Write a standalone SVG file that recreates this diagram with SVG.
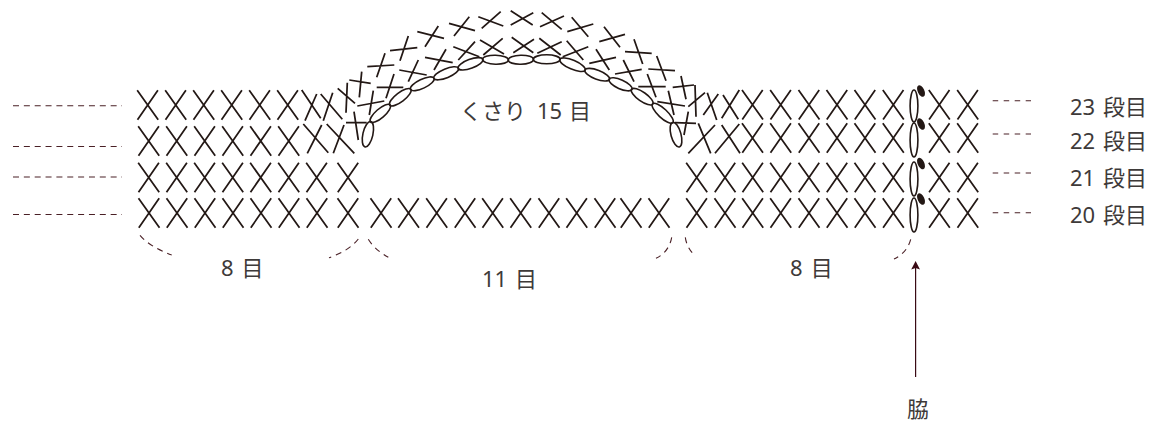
<svg xmlns="http://www.w3.org/2000/svg" width="1153" height="424" viewBox="0 0 1153 424">
<style>
.s{fill:none;stroke:#231815;stroke-width:1.75}
.o{fill:none;stroke:#231815;stroke-width:1.6}
.b{fill:#231815}
.d{fill:none;stroke:#4a2026;stroke-width:1.1}
.dl{stroke-dasharray:6 4.85}
.dr{stroke-dasharray:5.5 5.5}
.c{stroke-dasharray:6 5}
text{font-family:"Noto Sans","Noto Sans CJK JP",sans-serif;font-size:22px;fill:#3e3a39}
</style>
<defs>
<path id="x" class="s" d="M-10.5-14.7L10.5 14.7M10.2-14.7L-10.2 14.7"/>
</defs>
<g id="row-20">
<use href="#x" x="149" y="213"/><use href="#x" x="177" y="213"/><use href="#x" x="205" y="213"/><use href="#x" x="233" y="213"/><use href="#x" x="261" y="213"/><use href="#x" x="289" y="213"/><use href="#x" x="317" y="213"/><use href="#x" x="348" y="213"/>
<use href="#x" x="381" y="213"/><use href="#x" x="408.5" y="213"/><use href="#x" x="436.7" y="213"/><use href="#x" x="465" y="213"/><use href="#x" x="492.7" y="213"/><use href="#x" x="520.7" y="213"/><use href="#x" x="549" y="213"/><use href="#x" x="576.7" y="213"/><use href="#x" x="605" y="213"/><use href="#x" x="631" y="213"/><use href="#x" x="659" y="213"/>
<use href="#x" x="696.7" y="213"/><use href="#x" x="725" y="213"/><use href="#x" x="752.7" y="213"/><use href="#x" x="780.7" y="213"/><use href="#x" x="809" y="213"/><use href="#x" x="837" y="213"/><use href="#x" x="865" y="213"/><use href="#x" x="893.3" y="213"/>
<use href="#x" x="939.3" y="213"/><use href="#x" x="967.7" y="213"/>
</g>
<g id="row-21">
<use href="#x" x="148.7" y="177.5"/><use href="#x" x="176.7" y="177.5"/><use href="#x" x="204.7" y="177.5"/><use href="#x" x="232.7" y="177.5"/><use href="#x" x="260.7" y="177.5"/><use href="#x" x="288.7" y="177.5"/><use href="#x" x="316.7" y="177.5"/><use href="#x" x="348" y="177.5"/>
<use href="#x" x="696.7" y="177.5"/><use href="#x" x="725" y="177.5"/><use href="#x" x="752.7" y="177.5"/><use href="#x" x="780.7" y="177.5"/><use href="#x" x="809" y="177.5"/><use href="#x" x="837" y="177.5"/><use href="#x" x="865" y="177.5"/><use href="#x" x="893.3" y="177.5"/>
<use href="#x" x="939.3" y="177.5"/><use href="#x" x="967.7" y="177.5"/>
</g>
<g id="row-22">
<use href="#x" x="148.7" y="141"/><use href="#x" x="176.7" y="141"/><use href="#x" x="204.7" y="141"/><use href="#x" x="232.7" y="141"/><use href="#x" x="260.7" y="141"/><use href="#x" x="288.7" y="141"/>
<path class="s" d="M303.3 124L328.3 152.7M321.7 125L307.3 153.3M326.7 124L354.3 153.3M344 125L333.3 153.3"/>
<path class="s" d="M698.3 123.3L710.7 153.3M715 125L688.3 153.3M721.7 125L740 153.3M739.3 124L715 153.3"/>
<use href="#x" x="752.5" y="138"/><use href="#x" x="780.7" y="138"/><use href="#x" x="809" y="138"/><use href="#x" x="837" y="138"/><use href="#x" x="865" y="138"/><use href="#x" x="893.3" y="138"/>
<use href="#x" x="939.3" y="138"/><use href="#x" x="967.7" y="138"/>
</g>
<g id="row-23">
<use href="#x" x="147.7" y="105"/><use href="#x" x="175.7" y="105"/><use href="#x" x="203.7" y="105"/><use href="#x" x="231.7" y="105"/><use href="#x" x="259.7" y="105"/><use href="#x" x="287.7" y="105"/>
<path class="s" d="M301.7 90L320.7 118.3M316.7 94L305 120.7M320.7 94L342.3 119.3M332.7 92.7L323.3 120.7M337.7 88.3L355 103.3M347.3 82.7L346 112.7"/>
<path class="s" d="M695 85L696 116.7M688.3 106.7L705 92.7M707.3 92.7L716.7 120M718.3 94L703.3 115M723 95L738.3 119.3M739.3 90L721.7 118.3"/>
<use href="#x" x="752.5" y="104.7"/><use href="#x" x="780.7" y="104.7"/><use href="#x" x="809" y="104.7"/><use href="#x" x="837" y="104.7"/><use href="#x" x="865" y="104.7"/><use href="#x" x="893.3" y="104.7"/>
<use href="#x" x="939.3" y="104.7"/><use href="#x" x="967.7" y="104.7"/>
</g>
<g id="arch-inner-stitches">
<path class="s" d="M346 122.7L366.7 122.7M354 111.7L358.3 140M357.3 106L384.3 101M373.3 90.7L369.3 115M376.7 87.3L403.3 87.3M394 74L386 98.3M399.3 70L426.7 75M418.3 60L408.3 81.7M425 57.3L452.7 62.7M446 49.3L434 70M453.3 46.7L479.3 56.7M475 41.7L458.3 60M480 40L504 54M502.7 38.3L483.3 55M511.7 37.3L533.3 52.7M534 39.3L513.3 52.7M539.3 38.3L560.7 55M561.7 41.7L537.3 53.3M566.7 40.7L583.3 60M588.3 46.7L562.7 56.7M596 49.3L609.3 70M616 57.3L589.3 63.3M623.3 60L634 81.7M641.7 69.3L615 74M647.3 74L656 97.3M665.7 86.7L638.3 86.7M668.3 90.7L674 115M685 106L657.3 101.7M688.3 111.7L684 135M696 123.3L675 122.7"/>
</g>
<g id="arch-outer-stitches">
<path class="s" d="M349.3 80L370.7 83.3M361.7 71.7L359.3 97.3M367.3 66.7L394.3 65M385 53.3L376.7 77.3M390 50.7L417.3 47.7M408.3 36L400 60.7M417.3 31.7L444 38.3M438.3 26L425 46.7M449 23.3L475 30.7M469.3 16.7L454 36M478.3 16.7L503.3 26M500.7 11.7L481.7 28.3M510.7 10.7L532.7 25M533.3 12.7L510.7 25M541.7 12.7L561.7 29.3M564 16L540 26.7M571.7 17.3L588.3 36.7M593.3 24L567.3 31.7M604 26.7L620 47.3M625 34.3L599.3 41.7M634 39.3L642.7 64M651.7 53.3L625 51.7M656.7 56L666 80.7M675 70.7L648.3 69M681 76L686 99.3M694 85L672.7 87.3"/>
</g>
<g id="chain-15">
<ellipse class="o" cx="367.9" cy="134.2" rx="13" ry="5" transform="rotate(-77.2 367.9 134.2)"/>
<ellipse class="o" cx="380.3" cy="113.4" rx="13" ry="4.5" transform="rotate(-40.9 380.3 113.4)"/>
<ellipse class="o" cx="400.3" cy="97.2" rx="13.2" ry="4.5" transform="rotate(-37.2 400.3 97.2)"/>
<ellipse class="o" cx="422.3" cy="83.8" rx="13" ry="4.5" transform="rotate(-25.3 422.3 83.8)"/>
<ellipse class="o" cx="446.2" cy="73.3" rx="13.3" ry="4.5" transform="rotate(-22.4 446.2 73.3)"/>
<ellipse class="o" cx="470.5" cy="63.8" rx="13.2" ry="4.5" transform="rotate(-20.2 470.5 63.8)"/>
<ellipse class="o" cx="495.5" cy="59.7" rx="13" ry="4.5" transform="rotate(1.6 495.5 59.7)"/>
<ellipse class="o" cx="520.8" cy="59.7" rx="12.7" ry="4.5" transform="rotate(-1.6 520.8 59.7)"/>
<ellipse class="o" cx="546.7" cy="59.3" rx="13.5" ry="4.5"/>
<ellipse class="o" cx="572.5" cy="64.7" rx="13.8" ry="4.5" transform="rotate(23.2 572.5 64.7)"/>
<ellipse class="o" cx="597.2" cy="74.7" rx="13.2" ry="4.5" transform="rotate(20.9 597.2 74.7)"/>
<ellipse class="o" cx="620.5" cy="84.3" rx="12.5" ry="4.5" transform="rotate(24.1 620.5 84.3)"/>
<ellipse class="o" cx="642.2" cy="96.7" rx="13" ry="4.5" transform="rotate(35 642.2 96.7)"/>
<ellipse class="o" cx="662.7" cy="113.3" rx="13.9" ry="4.5" transform="rotate(43.1 662.7 113.3)"/>
<ellipse class="o" cx="676" cy="134.7" rx="12.7" ry="5" transform="rotate(74.6 676 134.7)"/>
</g>
<g id="side-stitches">
<ellipse class="o" cx="914" cy="106" rx="3.9" ry="16"/>
<ellipse class="o" cx="914" cy="140" rx="3.9" ry="17"/>
<ellipse class="o" cx="914" cy="179" rx="3.9" ry="17"/>
<ellipse class="o" cx="914" cy="215" rx="3.9" ry="17"/>
<ellipse class="b" cx="921" cy="91" rx="3.3" ry="6.2" transform="rotate(-25 921 91)"/>
<ellipse class="b" cx="921" cy="124" rx="3.3" ry="6.2" transform="rotate(-25 921 124)"/>
<ellipse class="b" cx="921" cy="163.5" rx="3.3" ry="6.2" transform="rotate(-25 921 163.5)"/>
<ellipse class="b" cx="921" cy="199" rx="3.3" ry="6.2" transform="rotate(-25 921 199)"/>
</g>
<g id="connectors">
<path class="d dl" d="M13 105.7H122M13 146.5H122M13 177H122M13 214.5H122"/>
<path class="d dr" d="M992.7 100.7H1031M992.7 134H1031M992.7 173H1031M992.7 212.7H1031"/>
<path class="d c" d="M140 235.3Q150 247 171.7 255"/>
<path class="d c" d="M358.3 239Q349 251 329 257.7"/>
<path class="d c" d="M368.3 239.3Q375 250 388.3 257.3"/>
<path class="d c" d="M671.7 237.3Q669 252 656 258.3"/>
<path class="d c" d="M685.3 237.3Q687 249 695.7 256"/>
<path class="d c" d="M910.7 239.3Q907 253 894 259"/>
<path fill="none" stroke="#3a0a14" stroke-width="1.2" d="M915.6 377V266"/>
<path fill="#3a0a14" d="M915.6 261L920 269.5L915.6 268L911.2 269.5Z"/>
</g>
<g id="labels">
<text id="label-23" x="1070" y="115">23<tspan x="1103">段目</tspan></text>
<text id="label-22" x="1070" y="149">22<tspan x="1103">段目</tspan></text>
<text id="label-21" x="1070" y="186">21<tspan x="1103">段目</tspan></text>
<text id="label-20" x="1070" y="223">20<tspan x="1103">段目</tspan></text>
<text id="label-chain" x="460" y="119">くさり<tspan x="537">15</tspan><tspan x="569">目</tspan></text>
<text id="label-8-left" x="221" y="276">8<tspan x="241.5">目</tspan></text>
<text id="label-11" x="482" y="287">11<tspan x="515">目</tspan></text>
<text id="label-8-right" x="790" y="276">8<tspan x="810.7">目</tspan></text>
<text id="label-side" x="907" y="417">脇</text>
</g>
</svg>
